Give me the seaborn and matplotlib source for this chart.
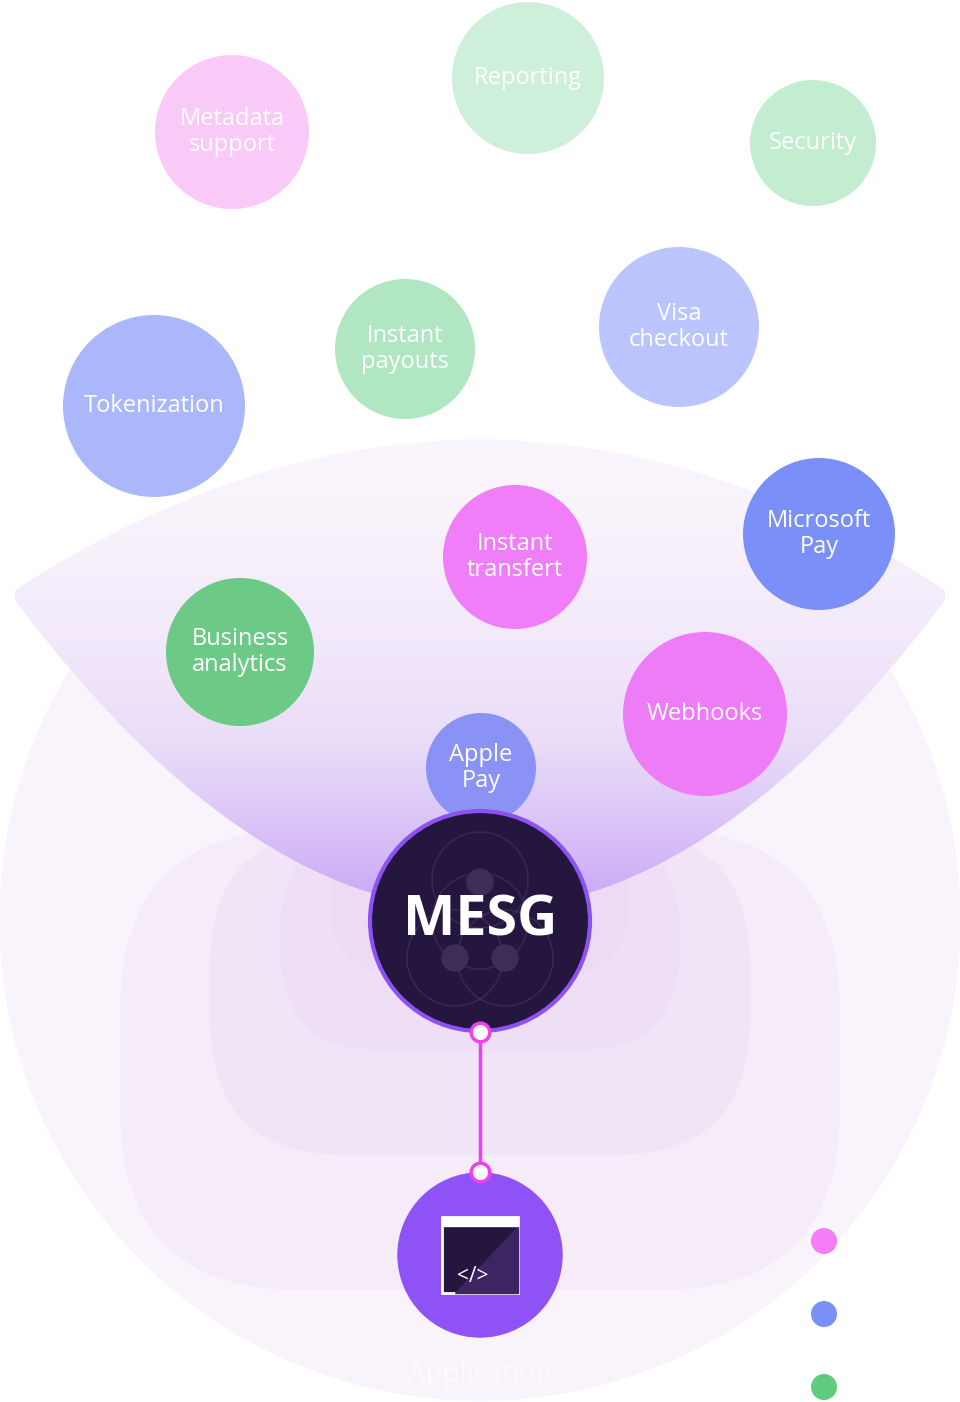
import numpy as np
import pandas as pd
import seaborn as sns
import matplotlib.pyplot as plt
from matplotlib.patches import Circle, Rectangle, FancyBboxPatch, Polygon
from matplotlib.path import Path

sns.set_theme(style="white")
plt.rcParams['font.family'] = ['Open Sans', 'DejaVu Sans']

# bubbles: label, x, y, radius (pixels), colour
labels = ["Metadata\nsupport", "Reporting", "Security", "Tokenization", "Instant\npayouts",
          "Visa\ncheckout", "Microsoft\nPay", "Instant\ntransfert", "Business\nanalytics",
          "Webhooks", "Apple\nPay"]
xs = [232, 528, 813, 154, 405, 679, 819, 515, 240, 705, 481]
ys = [132, 78, 143, 406, 349, 327, 534, 557, 652, 714, 768]
radii = [77, 76, 63, 91, 70, 80, 76, 72, 74, 82, 55]
colors = ["#f9c9f8", "#ceefd9", "#c3edd1", "#aab7fb", "#b0e6c1", "#bcc4fd", "#7b8ff8",
          "#f07ef8", "#6cc986", "#ee7cf7", "#8a93f5"]
legend_colors = ["#f47ef6", "#7b8ff8", "#5fcb7c"]
legend_y = [1241, 1314, 1387]

W, H = 960, 1402
fig = plt.figure(figsize=(W / 100, H / 100), dpi=100)
ax = fig.add_axes([0, 0, 1, 1])
ax.set_xlim(0, W)
ax.set_ylim(H, 0)
ax.axis("off")

def px2s(r):
    return (2 * r * 0.72) ** 2

# background halo
ax.add_patch(Circle((480, 920), 480, color="#f9f3fb", zorder=0))
for w, a in [(720, 0.25), (540, 0.3), (400, 0.35), (300, 0.4)]:
    ax.add_patch(FancyBboxPatch((480 - w / 2, 830), w, w * 0.75 - 80,
                                boxstyle="round,pad=0,rounding_size=%d" % (w / 4),
                                color="#ecd6f5", alpha=a, lw=0, zorder=0.5))

# bowl (lens) with gradient
t = np.linspace(0, 1, 200)
top_x = np.linspace(15, 945, 200)
top_y = 440 + 150 * ((top_x - 480) / 465) ** 2
bot_x = top_x[::-1]
bot_y = 910 - 320 * (1 - ((bot_x - 480) / 465) ** 2) ** 0.5 * 0 - 0
bot_y = 600 + 310 * (1 - ((bot_x - 480) / 465) ** 2)
verts = np.column_stack([np.r_[top_x, bot_x], np.r_[top_y, bot_y]])
poly = Polygon(verts, closed=True, facecolor="none", edgecolor="none")
ax.add_patch(poly)
grad = np.linspace(0, 1, 256)[:, None]
cmap = sns.blend_palette(["#faf5fc", "#eadcf9", "#c8a6f6"], as_cmap=True)
im = ax.imshow(grad ** 1.6, extent=(0, W, 910, 440), cmap=cmap, aspect="auto", zorder=1)
im.set_clip_path(poly)

df = pd.DataFrame({"x": xs, "y": ys, "label": labels, "s": [px2s(r) for r in radii]})
sns.scatterplot(data=df, x="x", y="y", hue="label", palette=dict(zip(labels, colors)),
                s=df["s"].values, linewidth=0, legend=False, ax=ax, zorder=3)
for x, y, lab in zip(xs, ys, labels):
    ax.text(x, y, lab, color="white", fontsize=17, ha="center", va="center",
            linespacing=1.15, zorder=4)

# MESG node
ax.add_patch(Circle((480, 921), 110, facecolor="#25163f", edgecolor="#8d52f2", lw=3, zorder=5))
for cx, cy in [(480, 880), (455, 958), (505, 958), (480, 921)]:
    ax.add_patch(Circle((cx, cy), 48, fill=False, edgecolor="#3a2a55", lw=1, zorder=5))
for cx, cy in [(480, 882), (455, 958), (505, 958)]:
    ax.add_patch(Circle((cx, cy), 13, color="#3d2e57", zorder=5))
ax.text(480, 921, "MESG", color="white", fontsize=40, fontweight="bold",
        ha="center", va="center", zorder=6)

# connector
ax.plot([480, 480], [1032, 1172], color="#f03ef0", lw=2.5, zorder=4)
sns.scatterplot(x=[480, 480], y=[1032, 1172], s=180, color="white", edgecolor="#f03ef0",
                linewidth=2.5, ax=ax, zorder=7, legend=False)

# application node
ax.add_patch(Circle((480, 1255), 82, color="#8e52f6", zorder=5))
ax.add_patch(Rectangle((442, 1217), 76, 76, facecolor="#25163f", edgecolor="white", lw=2, zorder=6))
ax.add_patch(Polygon([[518, 1226], [518, 1293], [455, 1293]], color="#3d2463", zorder=6))
ax.add_patch(Rectangle((442, 1217), 76, 9, color="white", zorder=7))
ax.text(473, 1277, "</>", color="white", fontsize=15, ha="center", va="center", zorder=8)
ax.text(480, 1375, "Application", color="white", fontsize=20, ha="center", va="center",
        alpha=0.6, zorder=6)

sns.scatterplot(x=[824] * 3, y=legend_y, hue=[0, 1, 2], palette=legend_colors,
                s=px2s(13), linewidth=0, legend=False, ax=ax, zorder=5)

fig.savefig("out.png", dpi=100)
